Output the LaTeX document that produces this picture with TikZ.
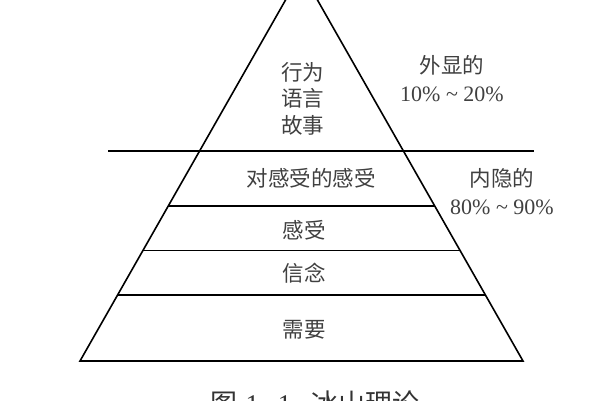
\documentclass[tikz,border=0pt]{standalone}
\usepackage{fontspec}
\setmainfont{Liberation Serif}
\newfontfamily\cjk{Noto Sans CJK SC}
\usetikzlibrary{calc}

\begin{document}
\begin{tikzpicture}[x=1pt,y=-1pt,%%
  lineStyle/.style={-,line width=1.6pt,black},%%
  labelStyle/.style={inner sep=0pt,text=black!75,align=center,%%
    font=\cjk\fontsize{21.5}{26.5}\selectfont},%%
  noteStyle/.style={inner sep=0pt,text=black!75,%%
    font=\fontsize{22}{26}\selectfont},%%
  captionStyle/.style={inner sep=0pt,text=black!80,anchor=north,%%
    font=\cjk\fontsize{27}{30}\selectfont}
]
\useasboundingbox (0,0) rectangle (600,400);
%%
%%
\pgfmathsetmacro{\xmid}{301.5}
\pgfmathsetmacro{\ytop}{-28}
\pgfmathsetmacro{\ybase}{361}
\pgfmathsetmacro{\halfbase}{221.5}
\coordinate (apex) at (\xmid,\ytop);
\coordinate (baseL) at (\xmid-\halfbase,\ybase);
\coordinate (baseR) at (\xmid+\halfbase,\ybase);
%%
%% The pyramid and its layers.
%%
\draw[lineStyle,line join=miter] (apex) -- (baseL) -- (baseR) -- cycle;
\foreach \ly/\nm in {206/feel,250.5/belief,295/need}{
  \pgfmathsetmacro{\tpos}{(\ly-\ytop)/(\ybase-\ytop)}
  \coordinate (\nm L) at ($(apex)!\tpos!(baseL)$);
  \coordinate (\nm R) at ($(apex)!\tpos!(baseR)$);
  \draw[lineStyle] (\nm L) -- (\nm R);
}
%% The water line.
\coordinate (waterL) at (108,151);
\coordinate (waterR) at (534,151);
\draw[lineStyle] (waterL) -- (waterR);
%%
%% The texts inside the pyramid.
%%
\node[labelStyle] (txtTop) at (302.5,98.5) {行为\\语言\\故事};
\node[labelStyle] (txtMeta) at (311,178) {对感受的感受};
\node[labelStyle] (txtFeel) at (304,230) {感受};
\node[labelStyle] (txtBelief) at (304,273) {信念};
\node[labelStyle] (txtNeed) at (304,330) {需要};
%% The notes on the right.
\node[labelStyle] (visible) at (452,65) {外显的};
\node[noteStyle] (visiblePct) at (452,94) {10\% \textasciitilde{} 20\%};
\node[labelStyle] (hidden) at (502,178) {内隐的};
\node[noteStyle] (hiddenPct) at (502,207) {80\% \textasciitilde{} 90\%};
%% The caption, cut by the lower edge.
\node[captionStyle] (caption) at (315,391)
  {图\hspace{8pt}{\rmfamily 1\hspace{5pt}-\hspace{5pt}1}\hspace{20pt}冰山理论};
\end{tikzpicture}
\end{document}
